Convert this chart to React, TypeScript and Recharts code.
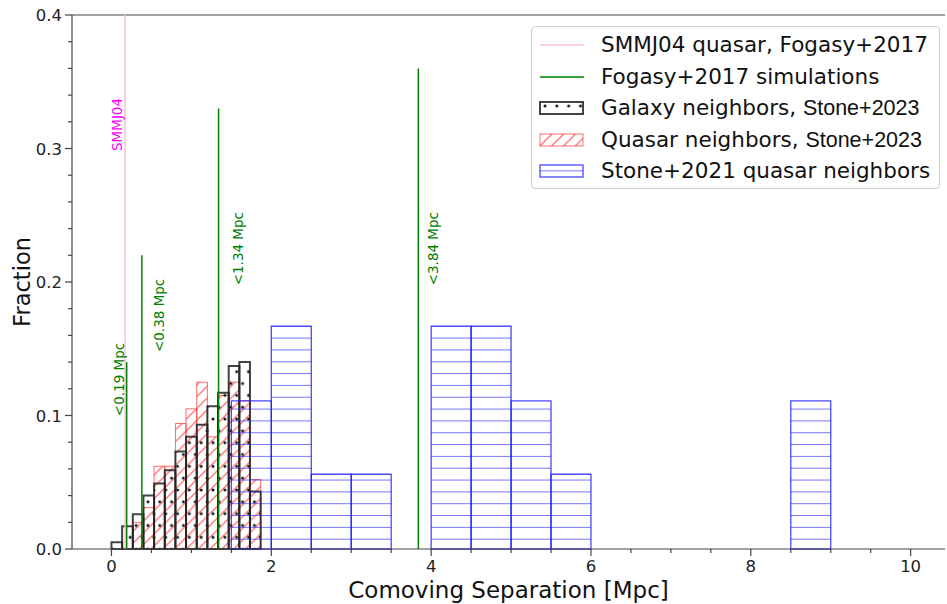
import React from "react";
import { ComposedChart, Line, ReferenceArea, ReferenceDot, ReferenceLine, XAxis, YAxis } from "recharts";

// Stone+2023 neighbours, 15 bins from 0 to 2 Mpc
const fineEdges = [0, 0.133, 0.267, 0.4, 0.533, 0.667, 0.8, 0.933, 1.067, 1.2, 1.333, 1.467, 1.6, 1.733, 1.867, 2.0];
const galaxyFrac = [0.005, 0.017, 0.026, 0.04, 0.049, 0.059, 0.073, 0.084, 0.093, 0.107, 0.117, 0.137, 0.14, 0.043, 0];
const quasarFrac = [0, 0, 0.02, 0.031, 0.062, 0.062, 0.094, 0.105, 0.125, 0.084, 0.115, 0.125, 0.111, 0.052, 0];

// Stone+2021 quasar neighbours, 0.5 Mpc bins
const coarseEdges = [1.5, 2.0, 2.5, 3.0, 3.5, 4.0, 4.5, 5.0, 5.5, 6.0, 6.5, 7.0, 7.5, 8.0, 8.5, 9.0];
const stone2021Frac = [0.111, 0.167, 0.056, 0.056, 0, 0.167, 0.167, 0.111, 0.056, 0, 0, 0, 0, 0, 0.111];

// Fogasy+2017 separations and line heights
const smmSep = 0.17;
const smmTop = 0.4;
const simSeps = [0.19, 0.38, 1.34, 3.84];
const simTops = [0.14, 0.22, 0.33, 0.36];

const notes = [
  { x: 0.075, y: 0.318, text: "SMMJ04", color: "magenta" },
  { x: 0.09, y: 0.127, text: "<0.19 Mpc", color: "green" },
  { x: 0.59, y: 0.175, text: "<0.38 Mpc", color: "green" },
  { x: 1.58, y: 0.225, text: "<1.34 Mpc", color: "green" },
  { x: 4.02, y: 0.225, text: "<3.84 Mpc", color: "green" },
];

const xTicks = [0, 0.5, 1, 1.5, 2, 2.5, 3, 3.5, 4, 4.5, 5, 5.5, 6, 6.5, 7, 7.5, 8, 8.5, 9, 9.5, 10];
const xMajor = [0, 2, 4, 6, 8, 10];
const yTicks = [0, 0.02, 0.04, 0.06, 0.08, 0.1, 0.12, 0.14, 0.16, 0.18, 0.2, 0.22, 0.24, 0.26, 0.28, 0.3, 0.32, 0.34, 0.36, 0.38, 0.4];
const yMajor = [0, 0.1, 0.2, 0.3, 0.4];

const FONT = "DejaVu Sans";
const AXIS = "#444";
const RED = "#ff1f1f";
const BLUE = "#1a1aff";

const bins = (edges: number[], vals: number[]) =>
  vals.map((v, i) => ({ x1: edges[i], x2: edges[i + 1], h: v })).filter((b) => b.h > 0);

const XTick = (props: any) => {
  const { x, y, payload } = props;
  const major = xMajor.includes(payload.value);
  return (
    <g>
      <line x1={x} x2={x} y1={y} y2={y + (major ? 7 : 4)} stroke={AXIS} strokeWidth={1.2} />
      {major && (
        <text x={x} y={y + 23} textAnchor="middle" fontSize={16.5} fontFamily={FONT} fill="#222">
          {payload.value}
        </text>
      )}
    </g>
  );
};

const YTick = (props: any) => {
  const { x, y, payload } = props;
  const major = yMajor.some((m) => Math.abs(m - payload.value) < 1e-9);
  return (
    <g>
      <line x1={x} x2={x - (major ? 7 : 4)} y1={y} y2={y} stroke={AXIS} strokeWidth={1.2} />
      {major && (
        <text x={x - 10} y={y + 6} textAnchor="end" fontSize={16.5} fontFamily={FONT} fill="#222">
          {payload.value.toFixed(1)}
        </text>
      )}
    </g>
  );
};

// y-axis title, baseline kept 30px from the left edge, centred on the plot
const YTitle = (props: any) => {
  const vb = props.viewBox;
  const cx = vb.x + 30;
  const cy = vb.y + vb.height / 2;
  return (
    <text x={cx} y={cy} transform={`rotate(-90 ${cx} ${cy})`} textAnchor="middle" fontSize={22.5} fontFamily={FONT} fill="#111">
      Fraction
    </text>
  );
};

// x-axis title, baseline placed so descenders stay inside the canvas
const XTitle = (props: any) => {
  const vb = props.viewBox;
  return (
    <text x={vb.x + vb.width / 2} y={vb.y + 49} textAnchor="middle" fontSize={23} fontFamily={FONT} fill="#111">
      Comoving Separation [Mpc]
    </text>
  );
};

const Note = (text: string, color: string) => (p: any) => (
  <text
    x={p.cx}
    y={p.cy}
    transform={`rotate(-90 ${p.cx} ${p.cy})`}
    textAnchor="middle"
    dominantBaseline="central"
    fontSize={13.5}
    fontFamily={FONT}
    fill={color}
  >
    {text}
  </text>
);

function Patterns() {
  return (
    <svg width={0} height={0} style={{ position: "absolute" }}>
      <defs>
        <pattern id="dots" patternUnits="userSpaceOnUse" width={11.83} height={23.66} x={3} y={1}>
          <circle cx={3} cy={4} r={1.5} fill="#111" />
          <circle cx={8.9} cy={15.8} r={1.5} fill="#111" />
        </pattern>
        <pattern id="diag" patternUnits="userSpaceOnUse" width={11.83} height={11.83} x={2} y={0}>
          <path d="M0,11.83 L11.83,0 M-3,3 L3,-3 M8.83,14.83 L14.83,8.83" stroke={RED} strokeOpacity={0.8} strokeWidth={1.1} />
        </pattern>
        <pattern id="hlines" patternUnits="userSpaceOnUse" width={20} height={11.83} x={0} y={538.7}>
          <line x1={0} x2={20} y1={0} y2={0} stroke={BLUE} strokeOpacity={0.8} strokeWidth={1.5} />
        </pattern>
      </defs>
    </svg>
  );
}

const legendRows = [
  { kind: "pink", label: "SMMJ04 quasar, Fogasy+2017", tail: "" },
  { kind: "green", label: "Fogasy+2017 simulations", tail: "" },
  { kind: "galaxy", label: "Galaxy neighbors, ", tail: "Stone+2023" },
  { kind: "quasar", label: "Quasar neighbors, ", tail: "Stone+2023" },
  { kind: "stone21", label: "Stone+2021 quasar neighbors", tail: "" },
];

function Swatch({ kind }: { kind: string }) {
  return (
    <svg width={46} height={14} style={{ position: "absolute", left: 7, top: -7 }}>
      {kind === "pink" && <line x1={1} x2={45} y1={7} y2={7} stroke="pink" strokeWidth={1.5} />}
      {kind === "green" && <line x1={1} x2={45} y1={7} y2={7} stroke="green" strokeWidth={1.5} />}
      {kind === "galaxy" && <rect x={1} y={1} width={43} height={12} fill="url(#dots)" stroke="#222" strokeOpacity={0.85} strokeWidth={2} />}
      {kind === "quasar" && <rect x={1} y={1} width={43} height={12} fill="url(#diag)" stroke={RED} strokeOpacity={0.65} strokeWidth={1} />}
      {kind === "stone21" && <rect x={1} y={1} width={43} height={12} fill="url(#hlines)" stroke={BLUE} strokeOpacity={0.8} strokeWidth={1.3} />}
    </svg>
  );
}

function LegendBox() {
  return (
    <div
      style={{
        position: "absolute",
        left: 531,
        top: 26,
        width: 409,
        height: 163,
        border: "1px solid #cccccc",
        borderRadius: 4,
        background: "rgba(255,255,255,0.85)",
        boxSizing: "border-box",
      }}
    >
      {legendRows.map((r, i) => (
        <div key={r.kind} style={{ position: "absolute", left: 0, top: 18 + i * 31.5 }}>
          <Swatch kind={r.kind} />
          <div
            style={{
              position: "absolute",
              left: 69,
              top: -14,
              whiteSpace: "nowrap",
              fontFamily: FONT,
              fontSize: 21.5,
              lineHeight: "28px",
              color: "#111",
            }}
          >
            {r.label}
            {r.tail && <span style={{ fontFamily: "Liberation Sans" }}>{r.tail}</span>}
          </div>
        </div>
      ))}
    </div>
  );
}

export default function App() {
  const simLines = simSeps.map((s, i) => [
    { x: s, y: 0 },
    { x: s, y: simTops[i] },
  ]);
  const smmLine = [
    { x: smmSep, y: 0 },
    { x: smmSep, y: smmTop },
  ];

  return (
    <div style={{ position: "absolute", left: 0, top: 0, width: 947, height: 604, background: "#fff" }}>
      <Patterns />
      <ComposedChart width={947} height={604} margin={{ top: 15, right: 2, bottom: 0, left: 0 }}>
        <XAxis
          type="number"
          dataKey="x"
          domain={[-0.494, 10.43]}
          allowDataOverflow
          ticks={xTicks}
          interval={0}
          tickSize={0}
          tickMargin={0}
          tickLine={false}
          tick={<XTick />}
          height={55}
          stroke={AXIS}
          strokeWidth={1.2}
          label={{ content: XTitle }}
        />
        <YAxis
          type="number"
          dataKey="y"
          domain={[0, 0.4]}
          allowDataOverflow
          ticks={yTicks}
          interval={0}
          tickSize={0}
          tickMargin={0}
          tickLine={false}
          tick={<YTick />}
          width={72}
          stroke={AXIS}
          strokeWidth={1.2}
          label={{ content: YTitle }}
        />
        <ReferenceLine y={0.4} stroke={AXIS} strokeWidth={1.2} />

        {bins(fineEdges, quasarFrac).map((b, i) => (
          <ReferenceArea key={`q${i}`} x1={b.x1} x2={b.x2} y1={0} y2={b.h} fill="url(#diag)" fillOpacity={1} stroke={RED} strokeOpacity={0.65} strokeWidth={1} />
        ))}
        {bins(fineEdges, galaxyFrac).map((b, i) => (
          <ReferenceArea key={`g${i}`} x1={b.x1} x2={b.x2} y1={0} y2={b.h} fill="url(#dots)" fillOpacity={1} stroke="#222" strokeOpacity={0.85} strokeWidth={2} />
        ))}
        {bins(coarseEdges, stone2021Frac).map((b, i) => (
          <ReferenceArea key={`s${i}`} x1={b.x1} x2={b.x2} y1={0} y2={b.h} fill="url(#hlines)" fillOpacity={1} stroke={BLUE} strokeOpacity={0.8} strokeWidth={1.3} />
        ))}

        <Line data={smmLine} dataKey="y" stroke="pink" strokeWidth={1.5} dot={false} isAnimationActive={false} />
        {simLines.map((d, i) => (
          <Line key={`sim${i}`} data={d} dataKey="y" stroke="green" strokeWidth={1.5} dot={false} isAnimationActive={false} />
        ))}

        {notes.map((n) => (
          <ReferenceDot key={n.text} x={n.x} y={n.y} r={0} shape={Note(n.text, n.color)} />
        ))}
      </ComposedChart>
      <LegendBox />
    </div>
  );
}
